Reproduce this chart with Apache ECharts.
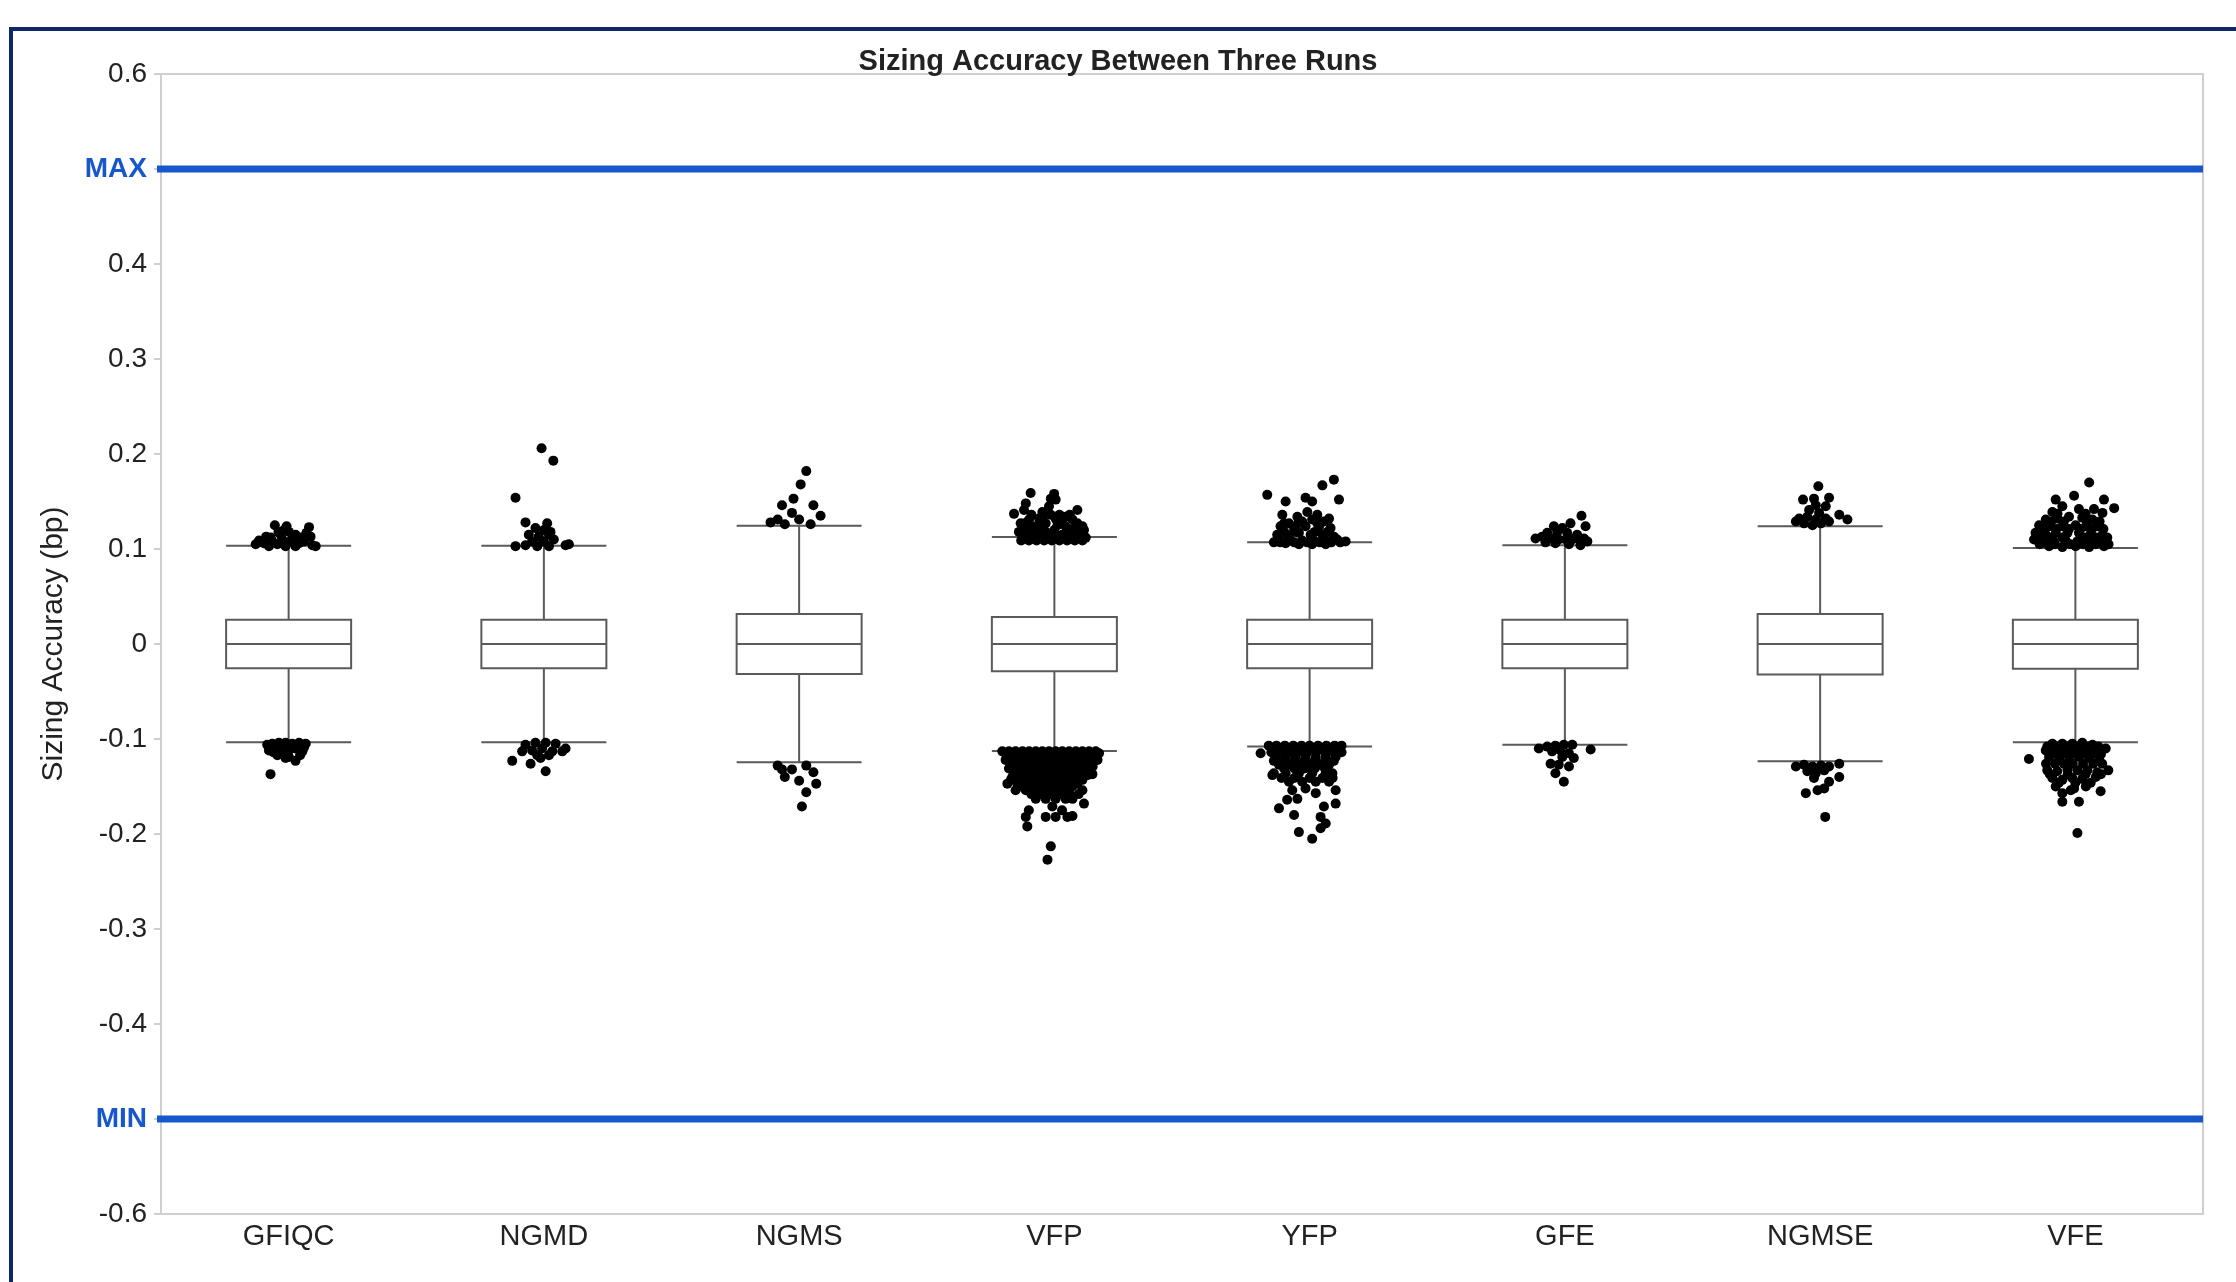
<!DOCTYPE html>
<html>
<head>
<meta charset="utf-8">
<title>Sizing Accuracy Between Three Runs</title>
<script src="https://cdn.jsdelivr.net/npm/echarts@6/dist/echarts.min.js"></script>
<style>
  html, body { margin: 0; padding: 0; background: #fff; overflow: hidden; }
  #chart { position: absolute; left: 0; top: 0; width: 2236px; height: 1282px; }
  #frame { position: absolute; left: 9px; top: 27px; width: 2300px; height: 1320px;
           border: 4px solid #0c2868; box-sizing: border-box; pointer-events: none; }
</style>
</head>
<body>
<div id="chart"></div>
<div id="frame"></div>
<script>
// Runs compared
const categories = ['GFIQC', 'NGMD', 'NGMS', 'VFP', 'YFP', 'GFE', 'NGMSE', 'VFE'];

// Box statistics per run: [lower whisker, Q1, median, Q3, upper whisker]
const boxStats = [
  [-0.1035, -0.0256, 0, 0.0256, 0.1035],
  [-0.1035, -0.0256, 0, 0.0256, 0.1035],
  [-0.1246, -0.0315, 0, 0.0315, 0.1246],
  [-0.1125, -0.0286, 0, 0.0284, 0.1126],
  [-0.1080, -0.0255, 0, 0.0256, 0.1070],
  [-0.1060, -0.0256, 0, 0.0256, 0.1040],
  [-0.1235, -0.0322, 0, 0.0316, 0.1239],
  [-0.1035, -0.0260, 0, 0.0256, 0.1010]
];

// Specification limits
const limitValues = [0.5, -0.5];
const limitNames = ['MAX', 'MIN'];

// Y-axis ticks
const yTicks = { min: -0.6, max: 0.6, step: 0.1 };

// Outliers per run: [jitter offset within the category, value]
const outGFIQC = [
  [-0.054,0.125],[-0.008,0.124],[0.080,0.123],[-0.018,0.120],[0.001,0.118],[-0.088,0.113],
  [-0.031,0.115],[0.027,0.115],[0.086,0.113],[-0.116,0.109],[-0.129,0.105],[-0.097,0.106],
  [-0.064,0.108],[-0.044,0.105],[-0.025,0.110],[-0.005,0.107],[0.014,0.110],[0.041,0.106],
  [0.060,0.108],[0.093,0.104],[0.106,0.103],[-0.077,0.103],[0.027,0.103],[-0.012,0.103],
  [-0.070,0.112],[0.050,0.112],[0.070,0.117],[-0.040,0.118],
  [-0.084,-0.106],[-0.064,-0.105],[-0.038,-0.104],[-0.012,-0.104],[0.014,-0.105],[0.041,-0.104],
  [0.067,-0.105],[-0.077,-0.112],[-0.051,-0.110],[-0.025,-0.113],[0.001,-0.112],[0.027,-0.110],
  [0.054,-0.113],[-0.044,-0.117],[-0.012,-0.120],[0.027,-0.123],[0.001,-0.119],[-0.025,-0.115],
  [0.060,-0.109],[0.045,-0.117],[-0.060,-0.114],[-0.071,-0.137]
];
const outNGMD = [
  [-0.009,0.206],[0.037,0.193],[-0.111,0.154],[-0.072,0.128],[0.013,0.127],[-0.033,0.122],
  [0.000,0.120],[0.026,0.118],[-0.059,0.115],[-0.020,0.113],[0.020,0.115],[0.039,0.110],
  [-0.046,0.108],[0.000,0.108],[-0.111,0.103],[-0.072,0.104],[-0.026,0.103],[0.020,0.103],
  [0.085,0.104],[0.098,0.105],
  [-0.072,-0.106],[-0.033,-0.104],[0.007,-0.104],[0.046,-0.105],[0.085,-0.110],[-0.085,-0.113],
  [-0.046,-0.112],[-0.007,-0.110],[0.033,-0.113],[0.072,-0.113],[-0.026,-0.117],[0.020,-0.117],
  [-0.052,-0.126],[-0.124,-0.123],[0.007,-0.134],[-0.013,-0.120]
];
const outNGMS = [
  [0.028,0.182],[0.006,0.168],[-0.022,0.153],[-0.067,0.146],[0.056,0.146],[0.084,0.135],
  [-0.028,0.138],[-0.084,0.131],[-0.112,0.128],[0.000,0.131],[0.045,0.126],[-0.056,0.126],
  [-0.084,-0.128],[-0.028,-0.132],[0.028,-0.128],[0.056,-0.135],[-0.056,-0.140],[0.000,-0.144],
  [0.067,-0.147],[0.028,-0.156],[0.011,-0.171],[-0.067,-0.132]
];
const outVFP = [
  [-0.093,0.159],[-0.001,0.158],[-0.014,0.153],[0.005,0.152],[-0.112,0.148],[-0.158,0.137],
  [-0.119,0.141],[-0.047,0.139],[0.090,0.141],[0.044,0.134],[-0.014,0.136],[-0.060,0.132],
  [0.071,0.131],[0.110,0.124],[0.116,0.120],[-0.132,0.127],[-0.099,0.131],[-0.073,0.124],
  [-0.034,0.127],[0.012,0.125],[0.044,0.124],[0.084,0.118],[-0.106,0.117],[-0.073,0.115],
  [-0.034,0.118],[-0.001,0.117],[0.031,0.115],[0.064,0.115],[0.103,0.114],[-0.119,0.112],
  [-0.086,0.111],[-0.054,0.112],[-0.014,0.111],[0.018,0.112],[0.051,0.111],[0.084,0.111],
  [0.123,0.112],[0.005,0.132],[-0.021,0.145],[-0.139,0.118],[-0.100,0.124],[0.030,0.128],
  [-0.045,0.121],[0.070,0.121],[0.100,0.118],[-0.020,0.115],[-0.080,0.121],
  [-0.130,0.109],[-0.100,0.109],[-0.070,0.109],[-0.040,0.109],[-0.010,0.109],[0.020,0.109],
  [0.050,0.109],[0.080,0.109],[0.110,0.109],
  [-0.125,0.120],[-0.060,0.120],[0.000,0.120],[0.050,0.120],[0.090,0.120],
  [-0.115,0.127],[-0.050,0.127],[0.025,0.127],[0.090,0.127],
  [-0.090,0.136],[-0.040,0.136],[0.060,0.136],[0.020,0.136],
  [-0.204,-0.113],[-0.178,-0.113],[-0.152,-0.113],[-0.125,-0.113],[-0.099,-0.113],[-0.073,-0.113],
  [-0.047,-0.113],[-0.021,-0.113],[0.005,-0.113],[0.031,-0.113],[0.058,-0.113],[0.084,-0.113],
  [0.110,-0.113],[0.136,-0.113],[0.162,-0.113],
  [-0.190,-0.115],[-0.139,-0.115],[-0.086,-0.115],[-0.034,-0.115],[0.018,-0.115],[0.071,-0.115],
  [0.123,-0.115],[0.175,-0.115],
  [-0.165,-0.117],[-0.112,-0.117],[-0.060,-0.117],[-0.008,-0.117],[0.044,-0.117],[0.097,-0.117],[0.149,-0.117],
  [-0.180,-0.119],[-0.135,-0.119],[-0.085,-0.119],[-0.035,-0.119],[0.015,-0.119],[0.065,-0.119],
  [0.115,-0.119],[0.160,-0.119],
  [-0.191,-0.122],[-0.158,-0.122],[-0.125,-0.122],[-0.093,-0.122],[-0.060,-0.122],[-0.027,-0.122],
  [0.005,-0.122],[0.038,-0.122],[0.071,-0.122],[0.103,-0.122],[0.136,-0.122],[0.169,-0.122],
  [-0.175,-0.124],[-0.141,-0.124],[-0.109,-0.124],[-0.076,-0.124],[-0.043,-0.124],[-0.011,-0.124],
  [0.021,-0.124],[0.054,-0.124],[0.087,-0.124],[0.120,-0.124],[0.152,-0.124],
  [-0.150,-0.127],[-0.100,-0.127],[-0.040,-0.127],[0.020,-0.127],[0.080,-0.127],[0.130,-0.127],
  [-0.165,-0.129],[-0.120,-0.129],[-0.070,-0.129],[-0.020,-0.129],[0.035,-0.129],[0.090,-0.129],[0.150,-0.129],
  [-0.178,-0.131],[-0.139,-0.131],[-0.099,-0.131],[-0.060,-0.131],[-0.021,-0.131],[0.018,-0.131],
  [0.058,-0.131],[0.097,-0.131],[0.136,-0.131],
  [-0.160,-0.133],[-0.118,-0.133],[-0.080,-0.133],[-0.040,-0.133],[0.000,-0.133],[0.038,-0.133],
  [0.078,-0.133],[0.118,-0.133],
  [-0.120,-0.135],[-0.070,-0.135],[-0.010,-0.135],[0.050,-0.135],[0.110,-0.135],
  [-0.145,-0.138],[-0.105,-0.138],[-0.066,-0.138],[-0.027,-0.138],[0.012,-0.138],[0.051,-0.138],
  [0.090,-0.138],[0.130,-0.138],
  [-0.165,-0.140],[-0.125,-0.140],[-0.086,-0.140],[-0.047,-0.140],[-0.008,-0.140],[0.031,-0.140],
  [0.071,-0.140],[0.110,-0.140],[0.149,-0.137],
  [-0.170,-0.143],[-0.130,-0.143],[-0.090,-0.143],[-0.050,-0.143],[-0.010,-0.143],[0.030,-0.143],
  [0.070,-0.143],[0.110,-0.143],
  [-0.184,-0.147],[-0.145,-0.147],[-0.106,-0.147],[-0.067,-0.147],[-0.027,-0.147],[0.012,-0.147],
  [0.051,-0.147],[0.090,-0.147],
  [-0.130,-0.150],[-0.090,-0.150],[-0.050,-0.150],[-0.010,-0.150],[0.030,-0.150],[0.070,-0.150],
  [-0.152,-0.154],[-0.112,-0.154],[-0.073,-0.154],[-0.034,-0.154],[0.005,-0.154],[0.044,-0.154],[0.110,-0.154],
  [-0.090,-0.158],[-0.050,-0.158],[-0.010,-0.158],[0.025,-0.158],[0.060,-0.158],[0.095,-0.158],
  [-0.073,-0.163],[-0.034,-0.163],[0.005,-0.163],[0.044,-0.163],[0.071,-0.163],
  [0.116,-0.168],[-0.008,-0.171],[-0.100,-0.175],[0.030,-0.175],
  [-0.112,-0.182],[-0.034,-0.182],[0.005,-0.182],[0.051,-0.182],[0.071,-0.181],
  [-0.106,-0.192],[-0.014,-0.213],[-0.027,-0.227]
];
const outYFP = [
  [-0.166,0.157],[0.095,0.173],[0.050,0.167],[0.115,0.152],[-0.094,0.150],[-0.016,0.154],
  [0.010,0.150],[-0.107,0.136],[-0.048,0.134],[-0.009,0.139],[0.030,0.136],[0.076,0.132],
  [-0.081,0.127],[-0.029,0.129],[0.010,0.131],[0.056,0.129],[-0.114,0.124],[-0.061,0.122],
  [-0.016,0.124],[0.037,0.124],[0.082,0.122],[-0.127,0.115],[-0.088,0.115],[-0.042,0.117],
  [0.004,0.115],[0.050,0.115],[0.095,0.113],[0.141,0.108],[-0.120,0.110],[-0.075,0.109],
  [-0.029,0.109],[0.017,0.109],[0.063,0.109],[0.108,0.110],[-0.094,0.106],[-0.042,0.105],
  [0.010,0.105],[0.063,0.105],
  [-0.140,0.107],[-0.115,0.107],[-0.060,0.107],[-0.010,0.107],[0.040,0.107],[0.085,0.107],[0.120,0.107],
  [-0.100,0.118],[-0.060,0.118],[0.020,0.118],[0.070,0.118],
  [-0.100,0.127],[-0.045,0.127],[0.030,0.127],
  [-0.192,-0.115],
  [-0.160,-0.107],[-0.130,-0.107],[-0.097,-0.107],[-0.064,-0.107],[-0.032,-0.107],[0.000,-0.107],
  [0.033,-0.107],[0.066,-0.107],[0.098,-0.107],[0.125,-0.107],
  [-0.146,-0.110],[-0.114,-0.110],[-0.081,-0.110],[-0.048,-0.110],[-0.016,-0.110],
  [0.017,-0.110],[0.050,-0.110],[0.082,-0.110],[0.115,-0.110],
  [-0.150,-0.114],[-0.115,-0.114],[-0.080,-0.114],[-0.045,-0.114],[-0.010,-0.114],[0.025,-0.114],
  [0.060,-0.114],[0.095,-0.114],[0.125,-0.114],
  [-0.133,-0.119],[-0.094,-0.119],[-0.055,-0.119],[-0.016,-0.119],[0.024,-0.119],[0.063,-0.119],[0.102,-0.119],
  [-0.140,-0.123],[-0.100,-0.123],[-0.060,-0.123],[-0.020,-0.123],[0.020,-0.123],[0.060,-0.123],[0.095,-0.123],
  [-0.120,-0.127],[-0.081,-0.127],[-0.042,-0.127],[-0.003,-0.127],[0.037,-0.127],[0.076,-0.127],
  [-0.100,-0.131],[-0.060,-0.131],[-0.020,-0.131],[0.020,-0.131],[0.060,-0.131],
  [-0.140,-0.136],[-0.094,-0.136],[-0.042,-0.136],[0.010,-0.136],[0.063,-0.136],[0.089,-0.136],
  [-0.146,-0.138],[-0.110,-0.141],[-0.060,-0.141],[0.000,-0.141],[0.050,-0.141],[0.090,-0.141],
  [-0.081,-0.145],[-0.029,-0.145],[0.024,-0.145],[0.076,-0.145],
  [0.102,-0.154],[-0.068,-0.154],[-0.016,-0.152],[0.024,-0.157],[-0.088,-0.164],[-0.048,-0.163],
  [0.102,-0.168],[0.056,-0.171],[-0.120,-0.173],[-0.061,-0.180],[0.043,-0.182],[0.063,-0.189],
  [0.043,-0.194],[-0.042,-0.198],[0.010,-0.205]
];
const outGFE = [
  [0.065,0.135],[0.081,0.124],[0.022,0.127],[-0.043,0.124],[-0.010,0.122],[-0.069,0.117],
  [-0.030,0.118],[0.009,0.117],[0.048,0.115],[0.075,0.111],[-0.115,0.111],[-0.089,0.113],
  [-0.050,0.111],[-0.024,0.110],[0.003,0.110],[0.029,0.110],[0.061,0.109],[0.088,0.108],
  [-0.076,0.107],[-0.037,0.106],[0.016,0.105],[0.061,0.104],
  [-0.102,-0.110],[0.101,-0.111],[-0.069,-0.108],[-0.037,-0.107],[-0.004,-0.106],[0.029,-0.106],
  [-0.050,-0.113],[-0.017,-0.112],[0.016,-0.115],[-0.010,-0.119],[0.035,-0.120],[-0.056,-0.126],
  [-0.024,-0.127],[0.016,-0.129],[-0.037,-0.136],[-0.004,-0.145]
];
const outNGMSE = [
  [-0.007,0.166],[-0.067,0.152],[-0.024,0.153],[0.035,0.154],[-0.017,0.146],[0.022,0.145],
  [-0.043,0.141],[-0.004,0.138],[-0.082,0.132],[-0.050,0.134],[-0.017,0.131],[0.022,0.132],
  [0.075,0.136],[0.107,0.131],[-0.095,0.129],[-0.063,0.127],[-0.030,0.125],[0.003,0.127],
  [0.035,0.129],
  [-0.095,-0.129],[-0.063,-0.127],[-0.030,-0.129],[0.003,-0.128],[0.035,-0.129],[0.075,-0.126],
  [-0.050,-0.134],[-0.017,-0.136],[0.016,-0.133],[0.075,-0.140],[-0.024,-0.141],[0.035,-0.145],
  [-0.010,-0.154],[0.016,-0.152],[-0.056,-0.157],[0.020,-0.182]
];
const outVFE = [
  [0.054,0.170],[-0.077,0.152],[-0.005,0.156],[0.112,0.152],[0.152,0.143],[-0.090,0.139],
  [-0.051,0.145],[0.014,0.142],[0.073,0.142],[0.106,0.138],[-0.116,0.131],[-0.071,0.132],
  [-0.025,0.134],[0.027,0.133],[0.067,0.131],[-0.142,0.125],[-0.103,0.124],[-0.051,0.124],
  [0.001,0.125],[0.041,0.124],[0.086,0.124],[-0.156,0.117],[-0.116,0.115],[-0.077,0.117],
  [-0.031,0.117],[0.014,0.117],[0.060,0.116],[0.106,0.115],[-0.162,0.110],[-0.123,0.107],
  [-0.084,0.108],[-0.038,0.109],[0.008,0.108],[0.054,0.109],[0.099,0.107],[-0.103,0.103],
  [-0.051,0.102],[0.001,0.103],[0.054,0.102],[0.112,0.103],
  [-0.140,0.105],[-0.080,0.105],[-0.020,0.105],[0.030,0.105],[0.080,0.105],[0.130,0.105],
  [-0.140,0.112],[-0.095,0.112],[-0.050,0.112],[0.035,0.112],[0.080,0.112],[0.125,0.112],
  [-0.125,0.121],[-0.075,0.121],[-0.025,0.121],[0.020,0.121],[0.065,0.121],[0.110,0.121],
  [-0.095,0.129],[-0.045,0.129],[0.045,0.129],[0.095,0.129],
  [-0.070,0.137],[0.040,0.137],
  [-0.090,-0.105],[-0.051,-0.105],[-0.012,-0.105],[0.027,-0.104],[0.067,-0.106],[0.119,-0.110],
  [-0.110,-0.108],[-0.070,-0.108],[-0.030,-0.108],[0.010,-0.108],[0.050,-0.108],[0.090,-0.108],
  [-0.116,-0.112],[-0.077,-0.113],[-0.038,-0.112],[0.001,-0.111],[0.041,-0.112],[0.080,-0.112],
  [-0.095,-0.116],[-0.055,-0.116],[-0.015,-0.116],[0.025,-0.116],[0.065,-0.116],[0.100,-0.116],
  [-0.182,-0.121],[-0.103,-0.119],[-0.064,-0.120],[-0.025,-0.119],[0.014,-0.119],[0.054,-0.120],
  [0.093,-0.122],
  [-0.115,-0.126],[-0.080,-0.126],[-0.045,-0.126],[-0.010,-0.126],[0.030,-0.126],[0.070,-0.126],[0.105,-0.126],
  [-0.110,-0.133],[-0.071,-0.134],[-0.031,-0.132],[0.008,-0.133],[0.047,-0.133],
  [0.086,-0.135],[0.129,-0.133],
  [-0.100,-0.137],[-0.030,-0.137],[0.040,-0.137],[0.100,-0.137],
  [-0.090,-0.141],[-0.051,-0.143],[-0.012,-0.141],[0.027,-0.142],[0.080,-0.140],
  [-0.065,-0.146],[0.000,-0.146],[0.060,-0.146],
  [-0.077,-0.150],[-0.005,-0.152],[0.041,-0.150],[0.099,-0.155],[-0.051,-0.157],
  [-0.018,-0.154],[-0.051,-0.166],[0.014,-0.166],[0.008,-0.199]
];
const outliers = [outGFIQC, outNGMD, outNGMS, outVFP, outYFP, outGFE, outNGMSE, outVFE];

// Place each outlier at its run's index plus its jitter offset
const outlierPoints = [];
outliers.forEach(function (list, i) {
  list.forEach(function (p) { outlierPoints.push([i + p[0], p[1]]); });
});

const FONT = '"Liberation Sans", Arial, Helvetica, sans-serif';
const GRAY = '#cfcfcf';
const BLUE = '#1757cc';

// Limit lines reach a little past the y axis, like a long tick, up to the plot's right edge
const limitLineStart = -0.535;
const limitLineEnd = categories.length - 0.5;
const limitSeries = limitValues.map(function (v, k) {
  return {
    name: limitNames[k],
    type: 'line',
    xAxisIndex: 1,
    data: [[limitLineStart, v], [limitLineEnd, v]],
    symbol: 'none',
    clip: false,
    silent: true,
    lineStyle: { color: BLUE, width: 7 },
    z: 1
  };
});

const chart = echarts.init(document.getElementById('chart'), null, { renderer: 'canvas' });

chart.setOption({
  backgroundColor: '#ffffff',
  animation: false,
  title: {
    text: 'Sizing Accuracy Between Three Runs',
    left: 'center',
    top: 42,
    textStyle: { fontFamily: FONT, fontSize: 29, fontWeight: 'bold', color: '#222' }
  },
  grid: {
    left: 161, top: 74, width: 2042, height: 1140,
    show: true, borderColor: GRAY, borderWidth: 2, backgroundColor: 'transparent'
  },
  xAxis: [
    {
      type: 'category',
      data: categories,
      boundaryGap: true,
      axisLine: { show: true, onZero: false, lineStyle: { color: GRAY, width: 2 } },
      axisTick: { show: false },
      axisLabel: { fontFamily: FONT, fontSize: 29, color: '#222', margin: 8 },
      splitLine: { show: false }
    },
    {
      type: 'value',
      min: -0.5, max: categories.length - 0.5,
      show: false,
      axisLine: { show: false, onZero: false },
      splitLine: { show: false }
    }
  ],
  yAxis: {
    type: 'value',
    min: yTicks.min, max: yTicks.max, interval: yTicks.step,
    name: 'Sizing Accuracy (bp)',
    nameLocation: 'middle',
    nameRotate: 90,
    nameGap: 92,
    nameTextStyle: { fontFamily: FONT, fontSize: 30, color: '#222' },
    axisLine: { show: true, onZero: false, lineStyle: { color: GRAY, width: 2 } },
    axisTick: { show: true, length: 7, lineStyle: { color: GRAY, width: 2 } },
    splitLine: { show: false },
    axisLabel: {
      fontFamily: FONT, fontSize: 28, color: '#222', margin: 14,
      formatter: function (v) {
        const r = Math.round(v * 10) / 10;
        const k = limitValues.indexOf(r);
        if (k >= 0) return '{lim|' + limitNames[k] + '}';
        return r === 0 ? '0' : String(r);
      },
      rich: {
        lim: { fontFamily: FONT, fontSize: 28, fontWeight: 'bold', color: BLUE }
      }
    }
  },
  series: [
    {
      name: 'Sizing accuracy',
      type: 'boxplot',
      xAxisIndex: 0,
      data: boxStats,
      boxWidth: [125, 125],
      itemStyle: { color: '#ffffff', borderColor: '#5a5a5a', borderWidth: 2 },
      z: 2
    },
    {
      name: 'Outliers',
      type: 'scatter',
      xAxisIndex: 1,
      data: outlierPoints,
      symbol: 'circle',
      symbolSize: 10,
      itemStyle: { color: '#000000', opacity: 1 },
      z: 3
    }
  ].concat(limitSeries)
});
</script>
</body>
</html>
